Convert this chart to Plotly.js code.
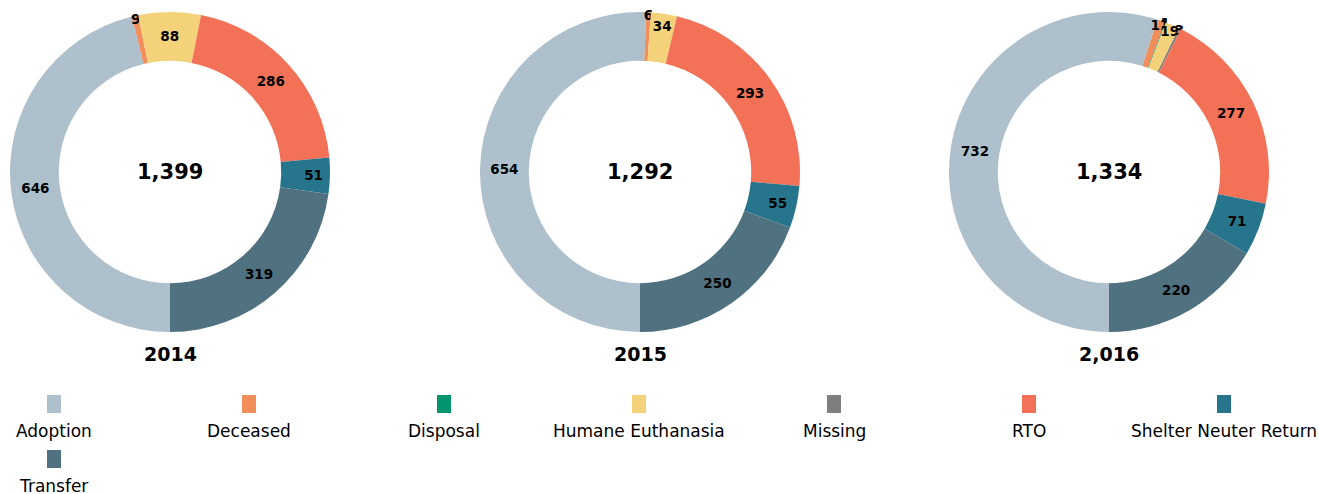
<!DOCTYPE html>
<html>
<head>
<meta charset="utf-8">
<script src="https://cdn.plot.ly/plotly-3.0.1.min.js"></script>
<style>html,body{margin:0;padding:0;background:#fff;}#chart{width:1319px;height:494px;}</style>
</head>
<body>
<div id="chart"></div>
<script>
const categories = ["Adoption","Deceased","Disposal","Humane Euthanasia","Missing","RTO","Shelter Neuter Return","Transfer"];
const colors = ["#AEC0CC","#F28E5C","#00946F","#F4D27A","#7F7F7F","#F37257","#26758C","#50717F"];
const yearLabels = ["2014","2015","2,016"];
const values2014 = [646, 9, 0, 88, 0, 286, 51, 319];
const values2015 = [654, 6, 0, 34, 0, 293, 55, 250];
const values2016 = [732, 11, 1, 19, 3, 277, 71, 220];
const series = [values2014, values2015, values2016];

const W = 1319, H = 494;
const px = x => x / W;
const py = y => 1 - y / H;
const centers = [170, 640, 1109];
const R = 160, CY = 172;
const FONT = "DejaVu Sans, Verdana, sans-serif";

const traces = series.map((vals, i) => ({
  type: "pie",
  labels: categories,
  values: vals,
  text: vals.map(v => v > 0 ? String(v) : ""),
  textinfo: "text",
  textposition: "inside",
  insidetextorientation: "horizontal",
  textfont: {family: FONT, size: 13.5, color: "#000", weight: "bold"},
  marker: {colors: colors, line: {width: 0}},
  hole: 0.695,
  sort: false,
  direction: "clockwise",
  rotation: 180,
  showlegend: false,
  domain: {x: [px(centers[i] - R), px(centers[i] + R)], y: [py(CY + R), py(CY - R)]},
  hoverinfo: "label+value"
}));

const annotations = [];
const shapes = [];
series.forEach((vals, i) => {
  const total = vals.reduce((a, b) => a + b, 0);
  annotations.push({
    x: px(centers[i]), y: py(CY), xref: "paper", yref: "paper",
    text: "<b>" + total.toLocaleString("en-US") + "</b>", showarrow: false,
    font: {family: FONT, size: 21, color: "#000"}, xanchor: "center", yanchor: "middle"
  });
  annotations.push({
    x: px(centers[i]), y: py(354), xref: "paper", yref: "paper",
    text: "<b>" + yearLabels[i] + "</b>", showarrow: false,
    font: {family: FONT, size: 19, color: "#000"}, xanchor: "center", yanchor: "middle"
  });
});

categories.forEach((c, i) => {
  const col = i % 7, row = Math.floor(i / 7);
  const cx = 54 + 195 * col;
  const sy = 395 + 55 * row;
  shapes.push({
    type: "rect", xref: "paper", yref: "paper",
    x0: px(cx - 7), x1: px(cx + 7), y0: py(sy + 18), y1: py(sy),
    fillcolor: colors[i], line: {width: 0}
  });
  annotations.push({
    x: px(cx), y: py(sy + 36), xref: "paper", yref: "paper",
    text: c, showarrow: false, xanchor: "center", yanchor: "middle",
    font: {family: FONT, size: 17, color: "#000"}
  });
});

const layout = {
  width: W, height: H,
  margin: {l: 0, r: 0, t: 0, b: 0},
  paper_bgcolor: "#fff",
  showlegend: false,
  uniformtext: {mode: "show", minsize: 13.5},
  annotations: annotations,
  shapes: shapes
};

Plotly.newPlot("chart", traces, layout, {displayModeBar: false, staticPlot: true});
</script>
</body>
</html>
